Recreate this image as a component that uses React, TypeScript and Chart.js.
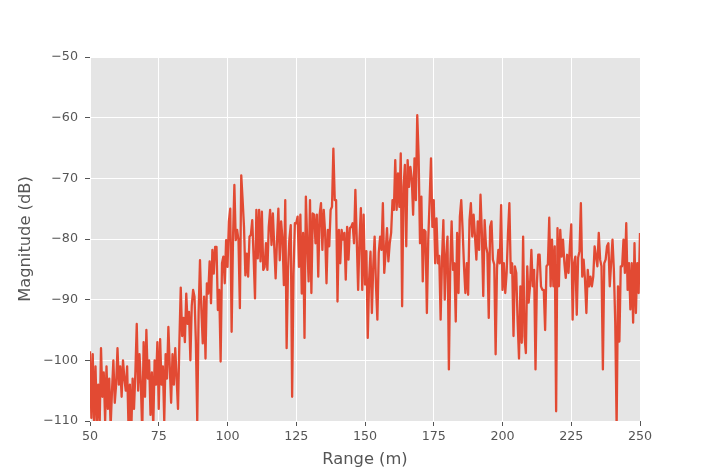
import React, { useEffect, useRef } from "react";
import { Chart, registerables } from "chart.js";

Chart.register(...registerables);

// Sample grid: 50 m to 250 m, every 0.5 m
const rangeStart = 50;
const rangeStep = 0.5;

// Magnitude (dB), one row per 5 m
const magnitudes: number[] = [
  -98.5, -109.5, -99, -111, -101, -110, -104, -111, -98, -106,
  -102, -110, -101, -108, -103, -111, -105, -100, -107, -104,
  -98, -104, -101, -106, -100, -103, -105, -101, -111, -104,
  -112, -103, -108, -102, -94, -105, -99, -104, -112, -97,
  -106, -95, -103, -100, -109, -102, -111, -100, -104, -97,
  -108, -96.5, -104, -101, -110, -99, -103, -94.5, -101, -107,
  -99, -104, -98, -103, -108, -97, -88, -96, -93, -97,
  -89, -94, -92, -100, -91, -88.4, -89.5, -97, -110, -92,
  -83.5, -91.7, -97.2, -89.5, -99.7, -87.3, -89, -83.7, -90.6, -81.8,
  -85.7, -81.3, -81.3, -91.7, -88.4, -100.2, -84, -82.9, -87.3, -80.2,
  -84.6, -77.1, -75, -95.3, -80, -71.1, -80.2, -78.5, -80.2, -91.4,
  -69.5, -73.6, -78, -86, -82.4, -86.2, -79.6, -79.3, -76.9, -83,
  -89.8, -75.2, -83.2, -75.2, -83.7, -75.5, -85.1, -84.6, -80.7, -85.1,
  -78, -75.2, -81, -75.8, -81.3, -86.5, -80.2, -75, -83.5, -77.1,
  -80, -87.6, -73.6, -98, -85.1, -80, -77.7, -106, -85.7, -77.4,
  -77.4, -76.3, -84.6, -76, -89, -79, -96.3, -73, -80.7, -87,
  -73.6, -88.9, -75.8, -76, -80.7, -76, -86.2, -76, -74.1, -81.8,
  -75.2, -79, -87.3, -78.5, -81.2, -75.2, -74.7, -65.1, -73.6, -73.6,
  -90.3, -78.5, -84, -78.5, -80.1, -79, -86.7, -78, -83.4, -78.2,
  -78, -77.4, -80.7, -71.9, -80.1, -88.4, -80.1, -74.9, -88.4, -76,
  -87.5, -82, -96.3, -86.7, -82.1, -92.2, -84.5, -79.6, -87.8, -93.3,
  -82.3, -79.6, -81.8, -74.1, -85.6, -82.3, -78.2, -83.7, -80.7, -79,
  -73.6, -75.2, -67, -75.2, -69.2, -74.7, -65.9, -91.1, -71.4, -67.8,
  -81.2, -67, -71.4, -68.1, -70, -76, -66.7, -73.6, -59.6, -66.4,
  -80.7, -73, -87, -78.5, -78.8, -92.2, -80.1, -73.6, -66.7, -78,
  -73.6, -84, -76.6, -84, -82.8, -93.3, -83.4, -76.9, -90, -82.8,
  -79.6, -101.5, -84.5, -77.1, -85.1, -84, -93.6, -79, -88.9, -76.3,
  -73.6, -78.5, -84.5, -88.9, -84, -89.2, -76.9, -74.1, -79.6, -76,
  -79.6, -83.4, -77.1, -81.8, -72.7, -79, -89.4, -76.9, -81.2, -82.3,
  -93, -78, -77.1, -83.4, -84.2, -99, -84.8, -81.8, -84, -74.4,
  -88.4, -84, -88.9, -85.6, -79, -74.1, -85.6, -84, -96, -84.5,
  -85.6, -93.6, -99.7, -87.8, -97.1, -79.6, -96, -98.8, -84.5, -90.5,
  -87.8, -81.8, -87.8, -85.1, -101.5, -87.3, -82.6, -82.6, -87.8, -88.4,
  -88.4, -95, -84.5, -84.2, -76.5, -87.8, -80.1, -87.8, -81.2, -108.4,
  -78.2, -87.8, -78.5, -82.9, -80.1, -84, -86.4, -82.6, -85.6, -81.2,
  -77.6, -93.3, -84, -82.9, -92.5, -83.1, -82, -74.1, -86.2, -83.4,
  -86.7, -92.2, -85.1, -87.8, -86.2, -87.8, -86.2, -81.2, -82.9, -84.5,
  -79, -83.4, -84.5, -101.5, -84, -83.4, -81.2, -80.7, -87.8, -84,
  -80.1, -85.1, -93.8, -111, -87.8, -96.9, -84.5, -84.5, -80.1, -85.6,
  -77.4, -88.4, -84, -91.6, -84, -93.8, -80.7, -92.2, -84, -88.9,
  -79,
];

const xLabel = "Range (m)";
const yLabel = "Magnitude (dB)";

const fmt = (v: number) => (v < 0 ? "\u2212" + Math.abs(v) : String(v));

const bgPlugin = {
  id: "plotBg",
  beforeDraw(chart: any) {
    const { ctx, chartArea } = chart;
    if (!chartArea) return;
    ctx.save();
    ctx.fillStyle = "#E5E5E5";
    ctx.fillRect(chartArea.left, chartArea.top, chartArea.right - chartArea.left, chartArea.bottom - chartArea.top);
    ctx.restore();
  },
};

export default function App() {
  const ref = useRef<HTMLCanvasElement>(null);
  useEffect(() => {
    document.body.style.margin = "0";
    const points = magnitudes.map((m, i) => ({ x: rangeStart + i * rangeStep, y: m }));
    const chart = new Chart(ref.current!, {
      type: "line",
      data: {
        datasets: [
          {
            data: points,
            borderColor: "#E24A33",
            borderWidth: 2.3,
            borderJoinStyle: "round",
            pointRadius: 0,
            tension: 0,
            fill: false,
          },
        ],
      },
      options: {
        animation: false,
        responsive: false,
        parsing: false as any,
        layout: { padding: { left: 0, right: 71, top: 57, bottom: 0 } },
        plugins: { legend: { display: false }, tooltip: { enabled: false } },
        scales: {
          x: {
            type: "linear",
            min: 50,
            max: 250,
            afterFit: (s: any) => { s.height = 52; },
            border: { display: false },
            grid: { color: "#FFFFFF", lineWidth: 1, tickColor: "#555555", tickLength: 5, drawTicks: true },
            ticks: {
              stepSize: 25,
              color: "#555555",
              padding: 3,
              maxRotation: 0,
              font: { family: "DejaVu Sans", size: 12.7 },
              callback: (v: any) => fmt(Number(v)),
            },
            title: {
              display: true,
              text: xLabel,
              color: "#555555",
              font: { family: "DejaVu Sans", size: 16.3 },
              padding: { top: 3, bottom: 3 },
            },
          },
          y: {
            type: "linear",
            min: -110,
            max: -50,
            afterFit: (s: any) => { s.width = 90; },
            border: { display: false },
            grid: { color: "#FFFFFF", lineWidth: 1, tickColor: "#555555", tickLength: 5, drawTicks: true },
            ticks: {
              stepSize: 10,
              color: "#555555",
              padding: 7,
              font: { family: "DejaVu Sans", size: 12.7 },
              callback: (v: any) => fmt(Number(v)),
            },
            title: {
              display: true,
              text: yLabel,
              color: "#555555",
              font: { family: "DejaVu Sans", size: 16.3 },
              padding: { top: 16, bottom: 16 },
            },
          },
        },
      },
      plugins: [bgPlugin],
    });
    return () => chart.destroy();
  }, []);
  return (
    <div style={{ position: "absolute", left: 0, top: 0, width: 711, height: 473, background: "#fff" }}>
      <canvas ref={ref} width={711} height={473} style={{ display: "block", width: 711, height: 473 }} />
    </div>
  );
}
